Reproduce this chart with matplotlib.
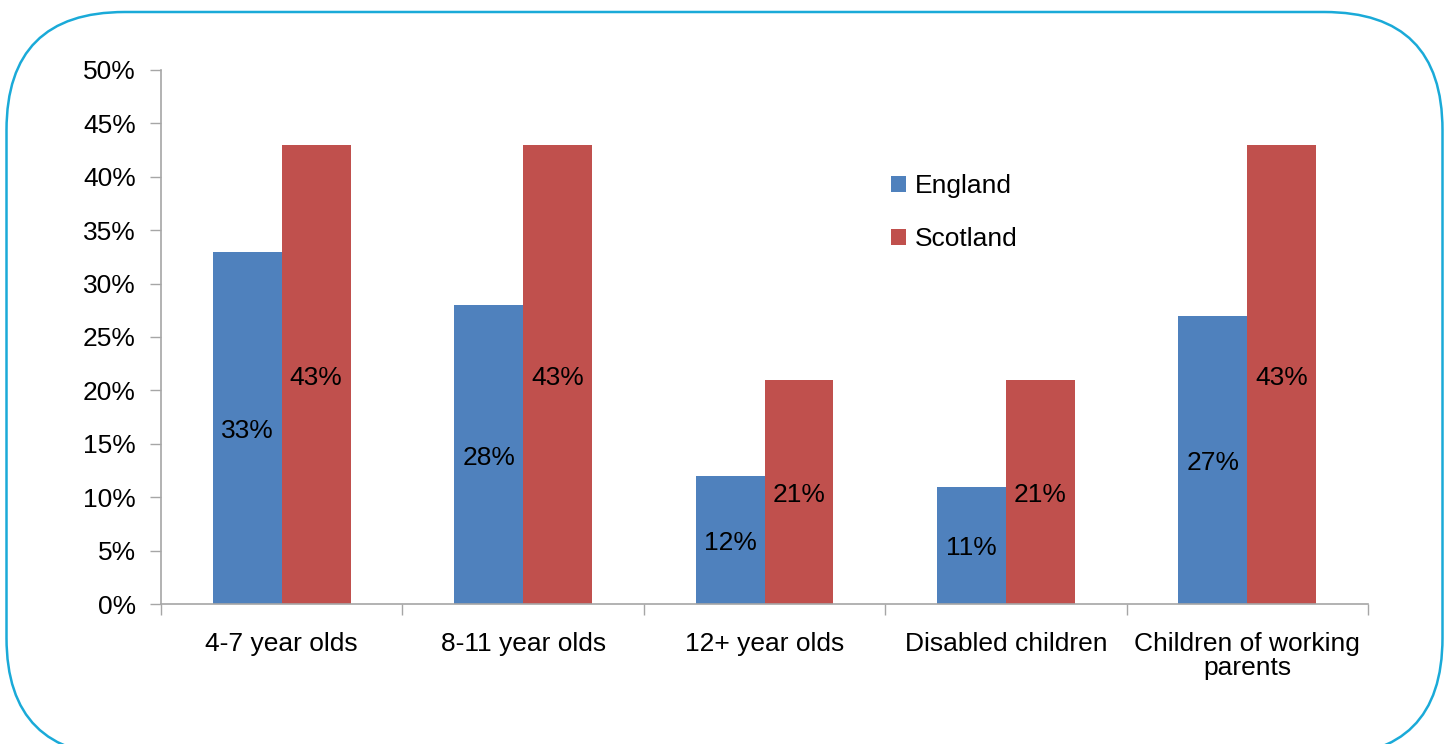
import numpy as np
import matplotlib.pyplot as plt
from matplotlib.patches import FancyBboxPatch, Patch

plt.rcParams['font.family'] = ['Liberation Sans', 'DejaVu Sans']

categories = ["4-7 year olds", "8-11 year olds", "12+ year olds",
              "Disabled children", "Children of working\nparents"]
england = [33, 28, 12, 11, 27]
scotland = [43, 43, 21, 21, 43]

blue = "#4F81BD"
red = "#C0504D"
axis_grey = "#A6A6A6"
fs = 19

fig = plt.figure(figsize=(14.49, 7.44), dpi=100)

# rounded frame around the whole chart (in inches so the corners stay circular)
frame = FancyBboxPatch((0.065, -0.12), 14.36, 7.44,
                       boxstyle="round,pad=0,rounding_size=1.18",
                       transform=fig.dpi_scale_trans, facecolor="none",
                       edgecolor="#1AAAD8", linewidth=1.8, clip_on=False)
fig.add_artist(frame)

ax = fig.add_axes([161 / 1449, 1 - 604 / 744, 1207 / 1449, 534 / 744])

x = np.arange(len(categories))
w = 1 / 3.5
b1 = ax.bar(x - w / 2, england, w, color=blue, label="England")
b2 = ax.bar(x + w / 2, scotland, w, color=red, label="Scotland")

# value labels in the middle of each bar
for bars, vals in ((b1, england), (b2, scotland)):
    for bar, v in zip(bars, vals):
        ax.text(bar.get_x() + bar.get_width() / 2, v / 2 - 0.3, f"{v}%",
                ha="center", va="center", fontsize=fs, color="black")

ax.set_xlim(-0.5, len(categories) - 0.5)
ax.set_ylim(0, 50)
ax.set_yticks(np.arange(0, 51, 5))
ax.set_yticklabels([f"{t}%" for t in range(0, 51, 5)])

# category ticks sit on the boundaries between groups
ax.set_xticks(np.arange(-0.5, len(categories), 1))
ax.set_xticklabels([])
ax.set_xticks(x, minor=True)
ax.set_xticklabels(categories, minor=True, fontsize=fs, linespacing=1.0)
ax.tick_params(axis="x", which="minor", length=0, pad=20)
ax.tick_params(axis="x", which="major", length=8, color=axis_grey, width=1)
ax.tick_params(axis="y", length=8, color=axis_grey, width=1, labelsize=fs, pad=10)

for side in ("top", "right"):
    ax.spines[side].set_visible(False)
for side in ("left", "bottom"):
    ax.spines[side].set_color(axis_grey)
    ax.spines[side].set_linewidth(1.2)

handles = [Patch(facecolor=blue, label="England"),
           Patch(facecolor=red, label="Scotland")]
ax.legend(handles=handles, loc="upper left", bbox_to_anchor=(0.605, 0.805),
          frameon=False, fontsize=fs, handlelength=0.55, handleheight=0.55,
          handletextpad=0.35, labelspacing=1.09, borderpad=0, borderaxespad=0)

fig.savefig("out.png", dpi=100)
